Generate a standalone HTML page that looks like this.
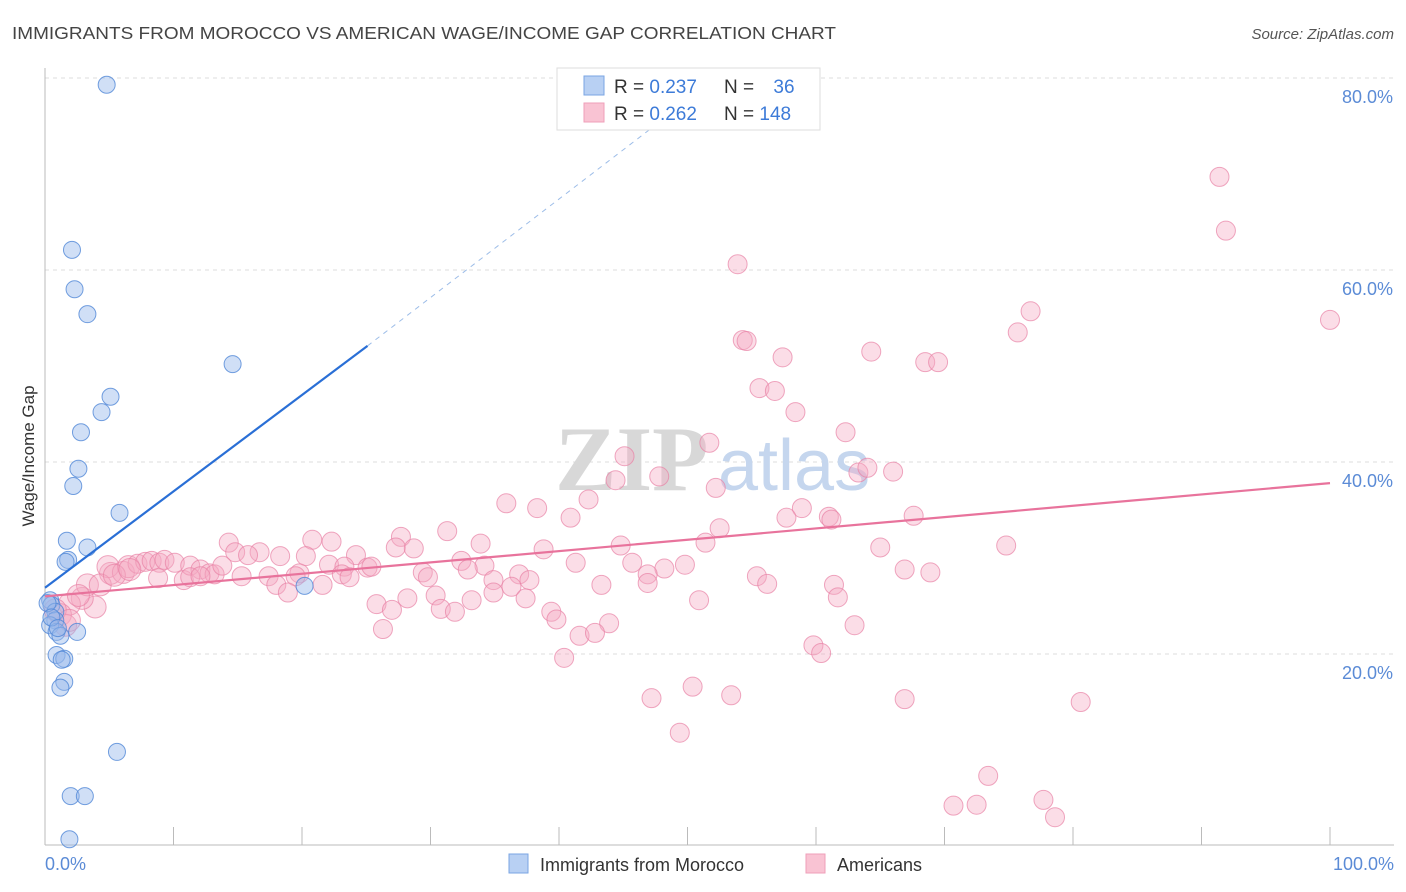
<!DOCTYPE html>
<html><head><meta charset="utf-8">
<style>
body{margin:0;background:#fff;font-family:"Liberation Sans",sans-serif;}
svg{display:block}
</style></head>
<body>
<svg id="chart" width="1406" height="892" viewBox="0 0 1406 892" xmlns="http://www.w3.org/2000/svg">
<text x="12" y="39" font-size="17.5" fill="#444" textLength="824" lengthAdjust="spacingAndGlyphs" font-family="Liberation Sans, sans-serif">IMMIGRANTS FROM MOROCCO VS AMERICAN WAGE/INCOME GAP CORRELATION CHART</text>
<text x="1394" y="39" font-size="15" fill="#555" text-anchor="end" font-style="italic">Source: ZipAtlas.com</text>
<g id="grid"></g>
<g id="watermark">
<text x="555" y="490" font-size="92" fill="#d8d8d8" font-family="Liberation Serif, serif" font-weight="bold">ZIP</text>
<text x="718" y="490" font-size="72" fill="#c5d6ee">atlas</text>
</g>
<line x1="45" y1="68" x2="45" y2="845" stroke="#bbb" stroke-width="1"/>
<line x1="45" y1="845" x2="1394" y2="845" stroke="#bbb" stroke-width="1"/>
<g id="xticks"></g>
<g id="ylabels"></g>
<text x="45" y="870" font-size="18" fill="#5b8bd6">0.0%</text>
<text x="1394" y="870" font-size="18" fill="#5b8bd6" text-anchor="end">100.0%</text>
<text transform="translate(34,456) rotate(-90)" font-size="17" fill="#333" text-anchor="middle">Wage/Income Gap</text>
<g id="pinkpts"></g>
<g id="bluepts"></g>
<g id="lines"></g>
<g>
<rect x="557" y="68" width="263" height="62" fill="#fff" stroke="#ddd"/>
<rect x="584" y="76" width="20" height="19" fill="#b8d0f3" stroke="#7aa5e3"/>
<rect x="584" y="103" width="20" height="19" fill="#f9c3d3" stroke="#ef9fb9"/>
<text x="614" y="93" font-size="19" fill="#333">R = <tspan fill="#3d7bd8">0.237</tspan></text>
<text x="724" y="93" font-size="19" fill="#333">N = <tspan fill="#3d7bd8" dx="14">36</tspan></text>
<text x="614" y="120" font-size="19" fill="#333">R = <tspan fill="#3d7bd8">0.262</tspan></text>
<text x="724" y="120" font-size="19" fill="#333">N = <tspan fill="#3d7bd8">148</tspan></text>
</g>
<g>
<rect x="509" y="854" width="19" height="19" fill="#b8d0f3" stroke="#7aa5e3"/>
<text x="540" y="871" font-size="18" fill="#333">Immigrants from Morocco</text>
</g>
<g>
<rect x="806" y="854" width="19" height="19" fill="#f9c3d3" stroke="#ef9fb9"/>
<text x="837" y="871" font-size="18" fill="#333">Americans</text>
</g>
</svg>
<script>
const yTicks=[20,40,60,80];
const yTickLabels=["20.0%","40.0%","60.0%","80.0%"];
const xTickVals=[0,10,20,30,40,50,60,70,80,90,100];
const blueX=[4.8,2.1,2.3,3.3,14.6,5.1,4.4,2.8,2.6,2.2,5.8,1.7,3.3,1.8,1.6,20.2,0.4,0.5,0.8,0.8,0.4,0.9,2.5,1.2,0.9,1.5,1.3,1.5,1.2,5.6,2.0,3.1,1.9,0.2,0.5,1.0];
const blueY=[79.3,62.1,58.0,55.4,50.2,46.8,45.2,43.1,39.3,37.5,34.7,31.8,31.1,29.8,29.6,27.1,25.6,25.1,24.4,23.5,23.0,22.3,22.3,21.9,19.9,19.5,19.4,17.1,16.5,9.8,5.2,5.2,0.7,25.3,23.8,22.7];
const pinkX=[91.4,91.9,100,53.9,76.7,75.7,54.3,54.6,57.4,64.3,68.5,69.5,55.6,56.8,58.4,62.3,51.7,45.1,44.4,47.8,63.3,64.0,66.0,52.2,42.3,35.9,38.3,40.9,58.9,61.0,61.2,67.6,57.7,52.5,31.3,51.4,65.0,74.8,44.8,38.8,27.7,27.3,28.7,33.9,14.3,20.8,22.3,24.2,14.8,16.7,15.8,18.3,20.3,32.4,34.2,41.3,45.7,48.2,49.8,46.9,22.1,23.3,25.1,25.4,19.8,19.5,23.1,23.7,29.4,29.8,32.9,36.9,37.7,34.9,15.3,17.4,18.0,18.9,21.6,43.3,46.9,55.4,56.2,61.4,66.9,68.9,36.3,28.2,30.4,33.2,37.4,34.9,25.8,27.0,30.8,31.9,39.4,39.8,43.9,41.6,42.8,26.3,50.9,61.7,63.0,59.8,60.4,40.4,47.2,50.4,53.4,49.4,66.9,80.6,73.4,77.7,70.7,72.5,78.6,3.9,2.9,1.9,3.3,2.6,5.1,4.9,6.1,6.5,7.2,7.8,8.3,8.9,9.3,10.1,10.8,8.8,11.3,12.1,12.8,13.2,13.8,11.3,12.1,1.2,1.6,0.8,1.9,4.3,5.4,6.6];
const pinkY=[69.7,64.1,54.8,60.6,55.7,53.5,52.7,52.6,50.9,51.5,50.4,50.4,47.7,47.4,45.2,43.1,42.0,40.6,38.1,38.5,38.9,39.4,39.0,37.3,36.1,35.7,35.2,34.2,35.2,34.3,34.0,34.4,34.2,33.1,32.8,31.6,31.1,31.3,31.3,30.9,32.2,31.1,31.0,31.5,31.6,31.9,31.7,30.3,30.6,30.6,30.3,30.2,30.2,29.7,29.2,29.5,29.5,28.9,29.3,28.3,29.3,29.1,29.0,29.1,28.4,28.1,28.3,28.0,28.5,28.0,28.8,28.3,27.7,27.7,28.1,28.1,27.2,26.4,27.2,27.2,27.4,28.1,27.3,27.2,28.8,28.5,27.0,25.8,26.1,25.6,25.8,26.4,25.2,24.6,24.7,24.4,24.4,23.6,23.2,21.9,22.2,22.6,25.6,25.9,23.0,20.9,20.1,19.6,15.4,16.6,15.7,11.8,15.3,15.0,7.3,4.8,4.2,4.3,3.0,24.9,25.8,25.2,27.2,26.1,28.4,29.1,28.5,29.1,29.4,29.6,29.7,29.5,29.8,29.5,27.7,27.9,29.2,28.8,28.4,28.3,29.2,28.0,28.1,24.1,23.0,24.6,23.5,27.2,28.2,28.8];
const blueTrend=[[0,26.9],[25.1,52.1],[48,75.6]];
const pinkTrend=[[0,26.0],[100,37.8]];
const NS="http://www.w3.org/2000/svg";
const X=v=>45+v*12.85, Y=v=>846-v*9.6;
function mk(tag,attrs,parent){const e=document.createElementNS(NS,tag);for(const k in attrs)e.setAttribute(k,attrs[k]);parent.appendChild(e);return e;}
const grid=document.getElementById('grid'),yl=document.getElementById('ylabels'),xt=document.getElementById('xticks');
yTicks.forEach((t,i)=>{
 const l=mk('line',{x1:45,x2:1394,y1:Y(t),y2:Y(t),stroke:'#ddd','stroke-dasharray':'4,4'},grid);
 
 
 const tx=mk('text',{x:1393,y:Y(t)+25,'font-size':18,fill:'#5b8bd6','text-anchor':'end'},yl);
 tx.textContent=yTickLabels[i];
 
 
});
xTickVals.forEach(v=>{
 const l=mk('line',{x1:X(v),x2:X(v),y1:827,y2:845,stroke:'#bbb'},xt);
 
 
});
const pp=document.getElementById('pinkpts');
pinkX.forEach((x,i)=>{
 const c=mk('circle',{cx:X(x),cy:Y(pinkY[i]),r:(x<7?11:9.5),fill:'rgba(246,170,196,0.4)',stroke:'rgba(232,130,165,0.7)','stroke-width':1},pp);
 
 
});
const bp=document.getElementById('bluepts');
blueX.forEach((x,i)=>{
 const c=mk('circle',{cx:X(x),cy:Y(blueY[i]),r:8.5,fill:'rgba(150,185,235,0.45)',stroke:'rgba(80,135,215,0.8)','stroke-width':1},bp);
 
 
});
const lg=document.getElementById('lines');
const b1=mk('line',{x1:X(blueTrend[0][0]),y1:Y(blueTrend[0][1]),x2:X(blueTrend[1][0]),y2:Y(blueTrend[1][1]),stroke:'#2a6fd6','stroke-width':2.2},lg);


const b2=mk('line',{x1:X(blueTrend[1][0]),y1:Y(blueTrend[1][1]),x2:X(blueTrend[2][0]),y2:Y(blueTrend[2][1]),stroke:'#9dbde8','stroke-width':1,'stroke-dasharray':'5,5'},lg);


const p1=mk('line',{x1:X(pinkTrend[0][0]),y1:Y(pinkTrend[0][1]),x2:X(pinkTrend[1][0]),y2:Y(pinkTrend[1][1]),stroke:'#e8739c','stroke-width':2.2},lg);


</script>
</body></html>
